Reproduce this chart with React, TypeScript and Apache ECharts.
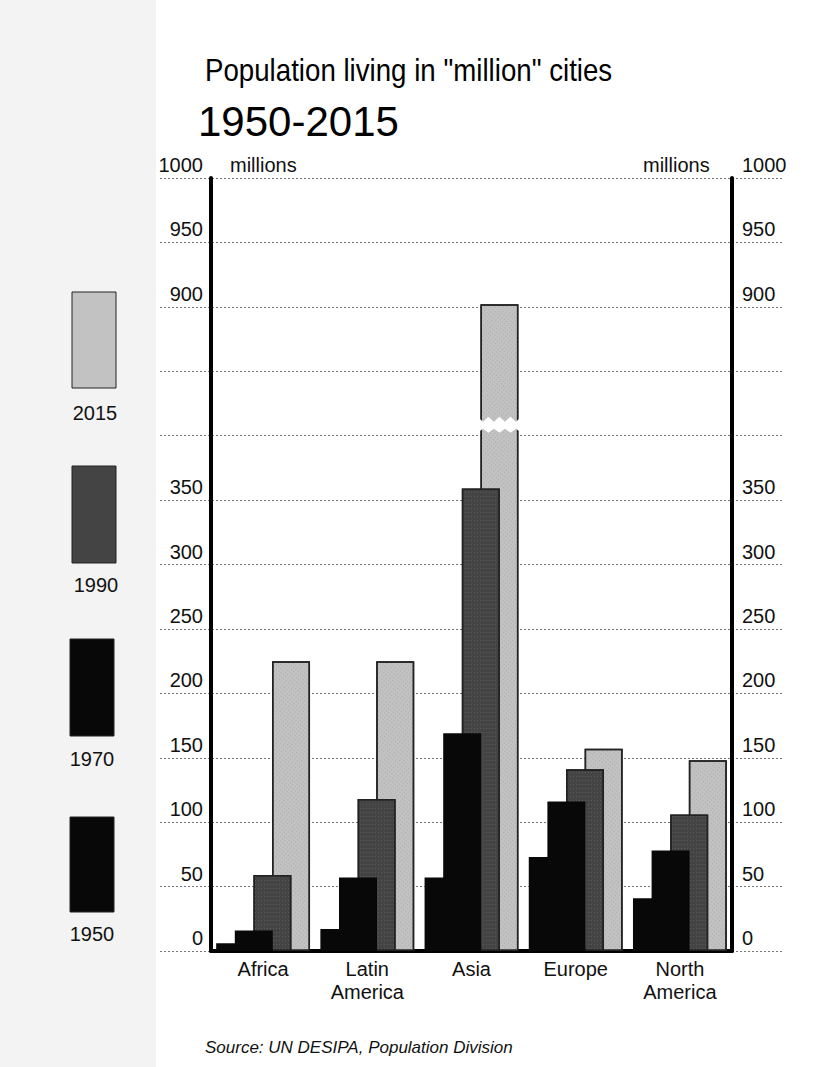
import React, { useEffect, useRef } from "react";
import * as echarts from "echarts";

// ---------- data ----------
const categories = ["Africa", "Latin\nAmerica", "Asia", "Europe", "North\nAmerica"];
const years = ["1950", "1970", "1990", "2015"];
const v1950 = [6, 17, 57, 73, 41];
const v1970 = [16, 57, 169, 116, 78];
const v1990 = [59, 118, 359, 141, 106];
const v2015 = [225, 225, 902, 157, 148];
// tick labels on the broken axis (one per gridline, bottom to top)
const tickLabels = ["0", "50", "100", "150", "200", "250", "300", "350", "", "", "900", "950", "1000"];
// values above the break are shifted down by this amount
const BREAK_SHIFT = 400;
const BREAK_FROM = 450;
// break band on the Asia 2015 bar (axis units)
const breakBand = [[2, 403, 414]];

const yearColors: Record<string, string> = {
  "1950": "#080808",
  "1970": "#080808",
  "1990": "#444444",
  "2015": "#c2c2c2",
};

const toAxis = (v: number) => (v > BREAK_FROM ? v - BREAK_SHIFT : v);

const FONT = "'Liberation Sans', Arial, Helvetica, sans-serif";
const BAR_W = 38;
const BAR_GAP = -0.51;

export default function App() {
  const ref = useRef<HTMLDivElement>(null);
  useEffect(() => {
    if (!ref.current) return;
    const chart = echarts.init(ref.current, null, { renderer: "svg" });
    const seriesData = [v1950, v1970, v1990, v2015];
    const step = BAR_W * (1 + BAR_GAP);
    const groupW = BAR_W + step * 3;
    const offset2015 = -groupW / 2 + BAR_W / 2 + step * 3;

    const labelFmt = (val: number) => {
      const i = Math.round(val / 50);
      return tickLabels[i] ?? "";
    };

    const decals: Record<string, any> = {
      "2015": { symbol: "rect", symbolSize: 1, color: "rgba(0,0,0,0.13)", dashArrayX: [1, 2], dashArrayY: [1, 2], rotation: 0.7 },
      "1990": { symbol: "rect", symbolSize: 1, color: "rgba(255,255,255,0.12)", dashArrayX: [1, 2], dashArrayY: [1, 3], rotation: 0 },
    };

    const legendBoxes = [
      { y: "2015", x: 72, top: 292, h: 96, ly: 413, lx: 95 },
      { y: "1990", x: 72, top: 466, h: 97, ly: 585, lx: 96 },
      { y: "1970", x: 70, top: 639, h: 97, ly: 759, lx: 92 },
      { y: "1950", x: 70, top: 817, h: 95, ly: 934, lx: 92 },
    ];

    const graphic: any[] = [
      { type: "rect", z: -10, shape: { x: 0, y: 0, width: 156, height: 1067 }, style: { fill: "#f3f3f3" } },
      {
        type: "text", x: 205, y: 70, scaleX: 0.865,
        style: { text: 'Population living in "million" cities', fontSize: 32, fontFamily: FONT, fill: "#000", textAlign: "left", textVerticalAlign: "middle" },
      },
      {
        type: "text", x: 198, y: 121,
        style: { text: "1950-2015", fontSize: 42, fontFamily: FONT, fill: "#000", textAlign: "left", textVerticalAlign: "middle" },
      },
      {
        type: "text", x: 230, y: 165,
        style: { text: "millions", fontSize: 20, fontFamily: FONT, fill: "#111", textAlign: "left", textVerticalAlign: "middle" },
      },
      {
        type: "text", x: 643, y: 165,
        style: { text: "millions", fontSize: 20, fontFamily: FONT, fill: "#111", textAlign: "left", textVerticalAlign: "middle" },
      },
      {
        type: "text", x: 205, y: 1047,
        style: { text: "Source: UN DESIPA, Population Division", fontSize: 17, fontStyle: "italic", fontFamily: FONT, fill: "#111", textAlign: "left", textVerticalAlign: "middle" },
      },
    ];
    legendBoxes.forEach((b) => {
      graphic.push({
        type: "rect",
        shape: { x: b.x, y: b.top, width: 44, height: b.h },
        style: { fill: yearColors[b.y], stroke: "#222", lineWidth: 1 },
      });
      graphic.push({
        type: "text", x: b.lx, y: b.ly,
        style: { text: b.y, fontSize: 20, fontFamily: FONT, fill: "#111", textAlign: "center", textVerticalAlign: "middle" },
      });
    });

    const yBase = {
      type: "value",
      min: 0,
      max: 600,
      interval: 50,
      gridIndex: 0,
      splitLine: { show: false },
      axisTick: { show: false },
      axisLine: { show: true, lineStyle: { color: "#000", width: 4 } },
    };

    chart.setOption({
      animation: false,
      backgroundColor: "#ffffff",
      grid: [
        { left: 211, right: 98, top: 178, bottom: 116 },
        { left: 160, right: 48, top: 178, bottom: 116 },
      ],
      xAxis: [
        {
          type: "category",
          gridIndex: 0,
          data: categories,
          axisTick: { show: false },
          axisLine: { show: true, lineStyle: { color: "#000", width: 4 } },
          axisLabel: { fontSize: 20, fontFamily: FONT, color: "#111", lineHeight: 23, margin: 6, interval: 0 },
        },
        { type: "value", gridIndex: 1, show: false, min: 0, max: 1 },
      ],
      yAxis: [
        {
          ...yBase,
          position: "left",
          axisLabel: {
            formatter: labelFmt, fontSize: 20, fontFamily: FONT, color: "#111",
            margin: 8, verticalAlign: "bottom", padding: [0, 0, 3, 0],
          },
        },
        {
          type: "value",
          gridIndex: 1,
          min: 0,
          max: 600,
          interval: 50,
          axisLine: { show: false },
          axisTick: { show: false },
          axisLabel: { show: false },
          splitLine: { show: true, lineStyle: { color: "#777", width: 1, type: [2, 2] } },
        },
        {
          ...yBase,
          position: "right",
          axisLabel: {
            formatter: labelFmt, fontSize: 20, fontFamily: FONT, color: "#111",
            margin: 10, verticalAlign: "bottom", padding: [0, 0, 3, 0],
          },
        },
      ],
      series: [
        ...years.map((yr, i) => ({
          name: yr,
          type: "bar",
          xAxisIndex: 0,
          yAxisIndex: 0,
          z: 6 - i,
          barWidth: BAR_W,
          barGap: `${BAR_GAP * 100}%`,
          data: seriesData[i].map(toAxis),
          itemStyle: {
            color: yearColors[yr],
            borderColor: yr === "2015" || yr === "1990" ? "#222" : yearColors[yr],
            borderWidth: yr === "2015" || yr === "1990" ? 1.5 : 0,
            decal: decals[yr],
          },
        })),
        {
          type: "custom",
          xAxisIndex: 0,
          yAxisIndex: 0,
          z: 10,
          data: breakBand,
          renderItem: (_p: any, api: any) => {
            const cat = api.value(0);
            const lo = api.coord([cat, api.value(1)]);
            const hi = api.coord([cat, api.value(2)]);
            const cx = lo[0] + offset2015;
            const half = BAR_W / 2 + 3;
            const n = 8;
            const pts: number[][] = [];
            for (let k = 0; k <= n; k++) pts.push([cx - half + (k * 2 * half) / n, hi[1] + (k % 2 ? 4 : -1)]);
            for (let k = n; k >= 0; k--) pts.push([cx - half + (k * 2 * half) / n, lo[1] + (k % 2 ? -3 : 1)]);
            return { type: "polygon", shape: { points: pts }, style: { fill: "#ffffff" } };
          },
        },
      ],
      graphic,
    });
    return () => chart.dispose();
  }, []);
  return <div ref={ref} style={{ position: "absolute", left: 0, top: 0, width: 830, height: 1067 }} />;
}
